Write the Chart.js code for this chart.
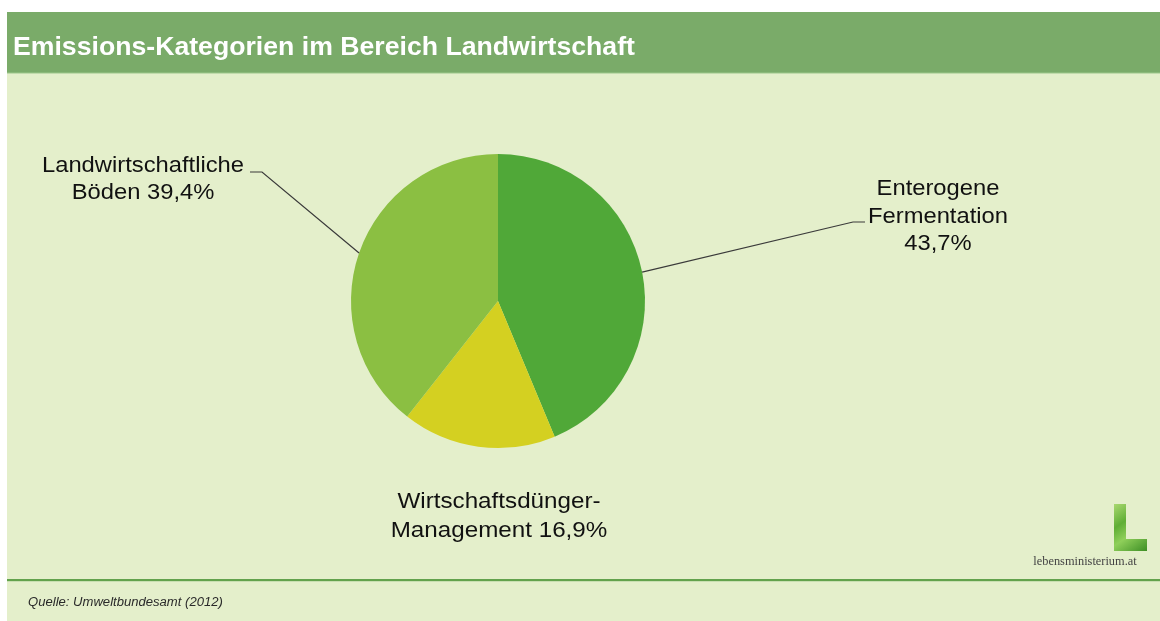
<!DOCTYPE html>
<html><head><meta charset="utf-8">
<script src="https://cdn.jsdelivr.net/npm/chart.js@4"></script>
<style>html,body{margin:0;padding:0;background:#fff;overflow:hidden}canvas{display:block}</style>
</head><body>
<canvas id="c" width="1160" height="621"></canvas>
<script>
// ---- data ----
const title = 'Emissions-Kategorien im Bereich Landwirtschaft';
const categories = [['Enterogene', 'Fermentation'], ['Wirtschaftsdünger-', 'Management'], ['Landwirtschaftliche', 'Böden']];
const values = [43.7, 16.9, 39.4];
const colors = ['#50a838', '#d4d021', '#8bbf42'];
const source = 'Quelle: Umweltbundesamt (2012)';
const logoText = 'lebensministerium.at';

function fmt(v) { return v.toFixed(1).replace('.', ',') + '%'; }

function drawScaledText(ctx, text, x, y, align, sx) {
  ctx.save();
  ctx.translate(x, y);
  ctx.scale(sx, 1);
  ctx.textAlign = align;
  ctx.textBaseline = 'alphabetic';
  ctx.fillText(text, 0, 0);
  ctx.restore();
}

const decor = {
  id: 'decor',
  beforeDraw(chart) {
    const ctx = chart.ctx;
    ctx.save();
    ctx.fillStyle = '#ffffff';
    ctx.fillRect(0, 0, 1160, 621);
    ctx.fillStyle = '#e4efcb';
    ctx.fillRect(7, 73, 1153, 548);
    ctx.fillStyle = '#7aab69';
    ctx.fillRect(7, 12, 1153, 61);
    ctx.fillStyle = '#9cc78b';
    ctx.fillRect(7, 72.5, 1153, 1);
    ctx.fillStyle = '#ffffff';
    ctx.font = 'bold 25.5px "Liberation Sans", Arial, sans-serif';
    drawScaledText(ctx, title, 13, 54.5, 'left', 1.045);
    // bottom rule
    ctx.fillStyle = '#62a24c';
    ctx.fillRect(7, 579, 1153, 2.2);
    // source
    ctx.fillStyle = '#2a2a2a';
    ctx.font = 'italic 12px "Liberation Sans", Arial, sans-serif';
    drawScaledText(ctx, source, 28, 606, 'left', 1.09);
    // logo
    const g = ctx.createLinearGradient(1114, 504, 1147, 551);
    g.addColorStop(0, '#a9d870');
    g.addColorStop(0.35, '#5fae35');
    g.addColorStop(0.6, '#8fcf5a');
    g.addColorStop(1, '#3d8f25');
    ctx.fillStyle = g;
    ctx.beginPath();
    ctx.moveTo(1114, 504); ctx.lineTo(1126, 504); ctx.lineTo(1126, 539);
    ctx.lineTo(1147, 539); ctx.lineTo(1147, 551); ctx.lineTo(1114, 551);
    ctx.closePath(); ctx.fill();
    ctx.fillStyle = '#444';
    ctx.font = '12px "Liberation Serif", "DejaVu Serif", serif';
    drawScaledText(ctx, logoText, 1085, 565, 'center', 1.03);
    ctx.restore();
  }
};

const labelsPlugin = {
  id: 'pieLabels',
  afterDatasetsDraw(chart, args, opts) {
    const ctx = chart.ctx;
    const meta = chart.getDatasetMeta(0);
    ctx.save();
    opts.items.forEach((it, i) => {
      const arc = meta.data[i];
      const p = arc.getProps(['x', 'y', 'startAngle', 'endAngle', 'outerRadius'], true);
      const mid = (p.startAngle + p.endAngle) / 2;
      if (it.elbow) {
        ctx.strokeStyle = '#3a3a3a';
        ctx.lineWidth = 1.2;
        ctx.beginPath();
        ctx.moveTo(p.x + Math.cos(mid) * p.outerRadius, p.y + Math.sin(mid) * p.outerRadius);
        ctx.lineTo(it.elbow[0], it.elbow[1]);
        ctx.lineTo(it.end[0], it.end[1]);
        ctx.stroke();
      }
      const lines = categories[i].slice();
      const pct = fmt(values[i]);
      if (it.pctNewLine) lines.push(pct); else lines[lines.length - 1] += ' ' + pct;
      ctx.fillStyle = '#111';
      ctx.font = '22px "Liberation Sans", Arial, sans-serif';
      lines.forEach((ln, k) => drawScaledText(ctx, ln, it.x, it.y + k * it.lh, 'center', it.sx));
    });
    ctx.restore();
  }
};

new Chart(document.getElementById('c'), {
  type: 'pie',
  data: {
    labels: categories.map(c => c.join(' ')),
    datasets: [{ data: values, backgroundColor: colors, borderWidth: 0 }]
  },
  options: {
    responsive: false,
    animation: false,
    layout: { padding: { left: 351, right: 515, top: 154, bottom: 173 } },
    plugins: {
      legend: { display: false },
      tooltip: { enabled: false },
      pieLabels: {
        items: [
          { x: 938, y: 195, lh: 27.5, sx: 1.08, pctNewLine: true, elbow: [853, 222], end: [865, 222] },
          { x: 499, y: 508, lh: 29, sx: 1.1, pctNewLine: false },
          { x: 143, y: 172, lh: 27, sx: 1.08, pctNewLine: false, elbow: [262, 172], end: [250, 172] }
        ]
      }
    }
  },
  plugins: [decor, labelsPlugin]
});
</script>
</body></html>
